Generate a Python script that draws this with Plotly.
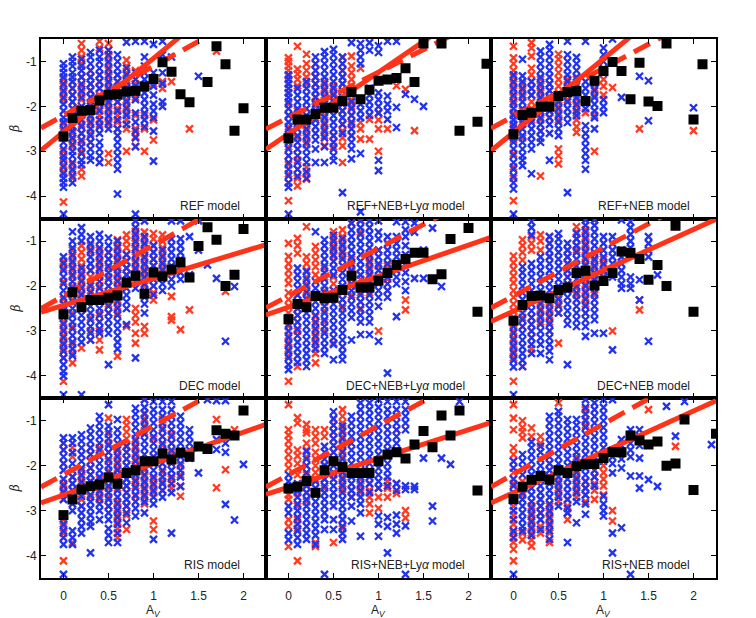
import plotly.graph_objects as go
from plotly.subplots import make_subplots

RED = "#ff3a20"
BLUE = "#2233ee"
LINE_RED = "#ff3318"

# panel labels, left-to-right, top-to-bottom
panel_labels = ["REF model", "REF+NEB+Ly<i>α</i> model", "REF+NEB model",
                "DEC model", "DEC+NEB+Ly<i>α</i> model", "DEC+NEB model",
                "RIS model", "RIS+NEB+Ly<i>α</i> model", "RIS+NEB model"]

# fitted relations (intercept, slope)
solid_icpt = [-2.57, -2.61, -2.58, -2.43, -2.47, -2.56, -2.655, -2.48, -2.60]
solid_slope = [1.64, 1.37, 1.64, 0.60, 0.69, 0.91, 0.70, 0.64, 0.91]
dash_icpt = [-2.205, -2.25, -2.22, -2.22, -2.22, -2.22, -2.20, -2.20, -2.19]
dash_slope = [1.10, 1.01, 1.07, 1.13, 1.06, 1.07, 1.09, 1.09, 1.12]
line_x = [-0.25, 2.25]

# binned medians (black squares)
med_x = [
    [0, .1, .2, .3, .4, .5, .6, .7, .8, .9, 1, 1.1, 1.2, 1.3, 1.4, 1.6, 1.7, 1.8, 1.9, 2.0],
    [0, .1, .2, .3, .4, .5, .6, .7, .8, .9, 1, 1.1, 1.2, 1.3, 1.4, 1.5, 1.7, 1.9, 2.1, 2.2],
    [0, .1, .2, .3, .4, .5, .6, .7, .8, .9, 1, 1.1, 1.2, 1.3, 1.4, 1.5, 1.6, 1.7, 2.0, 2.1],
    [0, .1, .2, .3, .4, .5, .6, .7, .8, .9, 1, 1.1, 1.2, 1.3, 1.4, 1.5, 1.6, 1.7, 1.8, 1.9, 2.0],
    [0, .1, .2, .3, .4, .5, .6, .7, .8, .9, 1, 1.1, 1.2, 1.3, 1.4, 1.5, 1.6, 1.7, 1.8, 2.0, 2.1],
    [0, .1, .2, .3, .4, .5, .6, .7, .8, .9, 1, 1.1, 1.2, 1.3, 1.4, 1.5, 1.6, 1.7, 1.8, 2.0],
    [0, .1, .2, .3, .4, .5, .6, .7, .8, .9, 1, 1.1, 1.2, 1.3, 1.4, 1.5, 1.6, 1.7, 1.8, 1.9, 2.0],
    [0, .1, .2, .3, .4, .5, .6, .7, .8, .9, 1, 1.1, 1.2, 1.3, 1.4, 1.5, 1.6, 1.7, 1.8, 1.9, 2.1],
    [0, .1, .2, .3, .4, .5, .6, .7, .8, .9, 1, 1.1, 1.2, 1.3, 1.4, 1.5, 1.6, 1.7, 1.8, 1.9, 2.0, 2.25],
]
med_y = [
    [-2.67, -2.26, -2.10, -2.08, -1.87, -1.74, -1.73, -1.67, -1.65, -1.56, -1.39, -1.02, -1.23, -1.73, -1.91, -1.46, -0.66, -1.06, -2.54, -2.04],
    [-2.71, -2.29, -2.29, -2.17, -2.03, -2.03, -1.88, -1.68, -1.84, -1.63, -1.43, -1.40, -1.37, -1.15, -1.46, -0.60, -0.60, -2.54, -2.34, -1.05],
    [-2.62, -2.19, -2.14, -2.01, -2.01, -1.77, -1.68, -1.66, -1.88, -1.43, -1.21, -1.01, -1.21, -1.84, -1.03, -1.89, -1.99, -0.60, -2.29, -1.06],
    [-2.63, -2.14, -2.47, -2.31, -2.31, -2.26, -2.21, -1.92, -1.77, -2.17, -1.70, -1.79, -1.63, -1.47, -1.81, -1.11, -0.69, -0.97, -2.00, -1.75, -0.73],
    [-2.74, -2.40, -2.47, -2.22, -2.27, -2.26, -2.09, -1.77, -2.03, -2.03, -1.88, -1.71, -1.53, -1.40, -1.26, -1.26, -1.85, -1.74, -0.95, -0.71, -2.57],
    [-2.77, -2.42, -2.22, -2.21, -2.27, -2.09, -2.03, -1.71, -1.66, -1.99, -1.89, -1.71, -1.23, -1.26, -1.40, -1.86, -1.53, -2.00, -0.66, -2.57],
    [-3.10, -2.75, -2.53, -2.46, -2.42, -2.26, -2.40, -2.16, -2.10, -1.90, -1.90, -1.73, -1.86, -1.71, -1.80, -1.57, -1.63, -1.21, -1.29, -1.33, -0.77],
    [-2.51, -2.47, -2.34, -2.60, -2.10, -1.90, -2.03, -2.16, -2.16, -2.16, -1.90, -1.75, -1.70, -1.84, -1.53, -1.23, -1.59, -0.88, -1.33, -0.77, -2.55],
    [-2.74, -2.47, -2.31, -2.23, -2.31, -2.10, -2.16, -2.01, -1.97, -1.96, -1.83, -1.70, -1.70, -1.33, -1.44, -1.53, -1.46, -2.00, -1.95, -0.97, -2.54, -1.29],
]

# individual galaxies: A_V column -> beta values
blue_ref = {
    0.0: "-1.05 -1.15 -1.25 -1.35 -1.5 -1.65 -1.8 -1.95 -2.1 -2.25 -2.35 -2.5 -2.65 -2.8 -2.95 -3.1 -3.2 -3.35 -3.5 -3.6 -3.7 -3.8 -4.4",
    0.1: "-0.9 -1.0 -1.1 -1.25 -1.35 -1.45 -1.6 -1.75 -1.9 -2.05 -2.2 -2.3 -2.45 -2.55 -2.7 -2.85 -3.0 -3.1 -3.25 -3.4 -3.55 -3.7",
    0.2: "-0.95 -1.1 -1.2 -1.35 -1.5 -1.65 -1.8 -2.0 -2.15 -2.3 -2.45 -2.6 -2.75 -2.9 -3.05 -3.2 -3.3",
    0.3: "-0.8 -0.9 -1.05 -1.2 -1.35 -1.5 -1.65 -1.8 -2.0 -2.2 -2.35 -2.5 -2.65 -2.8 -2.95 -3.1 -3.2",
    0.4: "-0.75 -0.9 -1.0 -1.15 -1.3 -1.45 -1.6 -1.8 -1.95 -2.1 -2.3 -2.45 -2.6 -2.8 -2.95 -3.1 -3.25",
    0.5: "-0.75 -0.85 -1.0 -1.15 -1.3 -1.45 -1.6 -1.75 -1.9 -2.05 -2.2 -2.35 -2.5",
    0.6: "-0.85 -1.0 -1.15 -1.3 -1.45 -1.6 -1.75 -1.9 -2.1 -2.3 -2.5 -2.65 -2.8 -2.95 -3.1 -3.25 -3.4 -3.95",
    0.7: "-0.57 -1.15 -1.3 -1.45 -1.6 -1.75 -1.9 -2.05 -2.2 -2.4",
    0.8: "-0.55 -1.25 -1.4 -1.55 -1.7 -1.85 -2.15 -2.35 -2.55 -2.7 -2.9 -4.4",
    0.9: "-0.55 -0.9 -1.1 -1.25 -1.4 -1.55 -1.7 -1.85 -2.0 -2.15 -2.3 -2.45",
    1.0: "-0.62 -1.25 -1.4 -1.55 -1.75 -1.95 -2.1 -2.25 -2.55 -3.22",
    1.1: "-0.55 -0.85 -1.25 -1.5 -1.9 -2.0",
    1.2: "-0.9",
    1.5: "-1.33",
}
red_ref = {
    0.0: "-1.4 -1.55 -1.7 -1.85 -2.4 -2.55 -2.7 -3.0 -3.15 -3.3 -3.45 -3.6 -4.13",
    0.1: "-1.45 -1.6 -1.75 -1.9 -2.05 -2.45 -2.6 -2.75 -2.9 -3.3 -3.45 -3.6",
    0.2: "-0.6 -0.75 -0.9 -1.05 -1.2 -1.35 -1.55 -1.7 -1.85 -2.2 -2.4 -2.6 -2.8 -3.0 -3.2 -3.4 -3.55",
    0.3: "-1.2 -1.35 -1.5 -1.65 -1.8 -1.95 -2.1 -2.25 -2.4 -2.6 -2.8",
    0.4: "-0.55 -0.7 -1.3 -1.45 -1.6 -1.75 -1.9 -2.05 -2.2 -2.4 -3.25",
    0.5: "-0.6 -0.75 -0.9 -1.05 -1.2 -1.35 -1.5 -1.65 -1.8 -1.95 -2.1 -2.25 -2.4 -3.05 -3.25",
    0.6: "-1.3 -1.45 -1.6 -1.75 -1.9 -2.05 -2.2 -2.35 -2.5",
    0.7: "-0.97 -1.1 -1.25 -1.4 -1.55 -1.7 -1.85 -2.0 -2.15 -2.3 -2.5 -3.0",
    0.8: "-1.2 -1.5 -1.8 -2.2 -2.5 -2.67 -2.89",
    0.9: "-2.2 -2.5 -3.0",
    1.0: "-1.5 -2.3 -2.75",
    1.1: "-1.45 -1.6",
    1.2: "-1.45",
    1.4: "-2.5",
    1.7: "-0.77",
}

blue_ref_neb_lya = {
    0.0: "-1.3 -1.4 -1.5 -1.6 -1.7 -1.8 -1.9 -2.05 -2.2 -2.35 -2.5 -2.65 -2.8 -2.95 -3.1 -3.25 -3.4 -3.55 -3.7 -3.8 -4.4",
    0.1: "-1.6 -1.75 -1.9 -2.05 -2.2 -2.35 -2.5 -2.65 -2.8 -2.95 -3.1 -3.25 -3.4 -3.55",
    0.2: "-1.45 -1.6 -1.75 -1.9 -2.05 -2.2 -2.35 -2.5 -2.65 -2.8 -2.95 -3.1 -3.25 -3.45 -3.6",
    0.3: "-0.9 -1.05 -1.2 -1.35 -1.5 -1.65 -1.8 -1.95 -2.1 -2.3 -2.45 -2.6 -2.75 -2.95 -3.25",
    0.4: "-0.78 -0.9 -1.05 -1.2 -1.35 -1.5 -1.65 -1.8 -1.95 -2.1 -2.25 -2.4 -2.55 -2.7 -2.9 -3.25",
    0.5: "-0.73 -0.85 -1.0 -1.15 -1.3 -1.45 -1.6 -1.75 -1.9 -2.05 -2.2 -2.35 -2.5 -2.65 -2.8 -2.95 -3.1 -3.21",
    0.6: "-0.9 -1.05 -1.2 -1.35 -1.5 -1.65 -1.8 -1.95 -2.1 -2.25 -2.4 -2.6 -3.92",
    0.7: "-0.58 -1.9 -2.05 -2.2 -2.35 -2.5 -2.65 -2.8 -2.95 -3.17",
    0.8: "-0.6 -0.75 -0.9 -1.05 -1.95 -2.1 -2.25 -3.05 -4.35",
    0.9: "-0.58 -0.75 -1.6 -1.75 -1.9 -2.05 -2.2",
    1.0: "-0.65 -0.8 -1.7 -1.85 -2.0 -2.15 -3.2 -3.43",
    1.1: "-0.55 -1.77 -1.95 -2.1 -2.29",
    1.2: "-0.55 -2.02 -2.47",
    1.3: "-1.73",
    1.4: "-1.84",
    1.5: "-2.0",
}
red_ref_neb_lya = {
    0.0: "-0.92 -1.0 -1.1 -1.2 -1.32 -1.5 -1.7 -1.95 -2.2 -2.45 -2.7 -2.9 -3.1 -3.3 -3.5 -3.7 -4.1",
    0.1: "-0.66 -1.17 -1.28 -1.4 -1.54 -2.1 -2.4 -2.7 -2.95 -3.2 -3.4 -3.6 -3.77",
    0.2: "-0.84 -1.05 -1.2 -1.35 -1.5 -2.4 -2.55 -2.7 -2.85 -3.35 -3.5 -3.62",
    0.3: "-1.05 -1.2 -1.35 -1.5 -1.65 -1.8 -1.9 -2.0 -2.15 -2.25",
    0.4: "-1.45 -1.6 -1.75 -1.9 -2.05 -2.2 -2.35 -2.5 -2.65 -2.88",
    0.5: "-1.55 -1.7 -1.85 -2.0 -2.65 -2.8 -2.9",
    0.6: "-0.91 -1.05 -1.2 -1.35 -1.5 -1.65 -1.8 -1.95 -2.1 -2.25 -2.4 -2.55 -2.7 -2.88 -3.25",
    0.7: "-0.88 -1.1 -1.25 -1.4 -1.55 -1.7 -1.85 -2.0 -2.2 -2.4 -2.65",
    0.8: "-1.15 -2.36 -2.5 -2.73",
    0.9: "-2.29 -2.73",
    1.0: "-2.14 -2.3 -2.5 -3.0",
    1.1: "-2.5",
    1.2: "-1.54",
    1.3: "-1.62",
    1.4: "-2.54",
}

blue_ref_neb = {
    0.0: "-1.3 -1.45 -1.6 -1.75 -1.9 -2.05 -2.2 -2.3 -2.4 -2.5 -2.6 -2.7 -2.8 -2.95 -3.1 -3.25 -3.4 -3.55 -3.7 -3.84 -4.4",
    0.1: "-0.95 -1.32 -1.45 -1.6 -1.75 -1.9 -2.05 -2.2 -2.35 -2.5 -2.65 -2.8 -2.95 -3.1 -3.2 -3.32",
    0.2: "-1.45 -1.6 -1.75 -2.36 -2.5 -2.65 -2.8 -2.95 -3.5",
    0.3: "-0.77 -0.9 -1.05 -1.2 -1.35 -1.5 -1.65 -1.8 -1.95 -2.1 -2.25 -2.4 -2.55 -2.7 -2.8",
    0.4: "-0.62 -0.75 -0.9 -1.05 -1.2 -1.35 -1.5 -1.65 -1.8 -1.95 -2.1 -2.25 -2.4 -2.6 -3.2",
    0.5: "-1.75 -1.9 -2.05 -2.2 -2.35 -2.5 -2.65",
    0.6: "-0.55 -0.85 -1.0 -1.15 -1.3 -1.45 -1.6 -1.75 -1.9 -2.05 -2.2 -2.36 -3.92",
    0.7: "-0.91 -1.05 -1.2 -1.35 -1.5 -1.65 -1.8 -1.95 -2.1 -2.21",
    0.8: "-0.55 -1.45 -1.6 -1.75 -1.9 -2.05 -2.43 -2.6 -2.75 -2.9 -3.05 -3.2 -3.4",
    0.9: "-1.5 -1.65 -1.8 -1.95 -2.1 -2.25 -2.5",
    1.0: "-0.7 -0.85 -1.0 -1.15 -1.25 -1.85 -2.0 -2.14",
    1.1: "-0.5",
    1.2: "-1.8",
    1.4: "-1.33",
    1.5: "-1.43 -2.32",
    2.0: "-2.03",
}
red_ref_neb = {
    0.0: "-0.66 -0.92 -1.05 -1.2 -1.35 -1.5 -1.65 -1.8 -1.95 -2.15 -2.45 -2.75 -3.05 -3.35 -3.6 -4.1",
    0.1: "-1.5 -1.65 -1.8 -2.1 -2.4 -2.7",
    0.2: "-0.58 -0.7 -0.88 -1.15 -1.3 -1.45 -1.6 -1.75 -1.9 -2.05 -2.2 -2.3",
    0.3: "-1.4 -1.55 -1.7 -1.85 -2.0 -2.15 -2.3 -2.55 -3.55",
    0.4: "-1.5 -1.65 -1.8 -1.95 -2.1 -2.25",
    0.5: "-0.84 -0.95 -1.1 -1.25 -1.4 -1.55 -1.7 -1.85 -2.0 -2.15 -2.3 -2.95 -3.1 -3.28",
    0.6: "-1.4 -1.55 -1.7 -1.85",
    0.7: "-1.4 -1.55 -1.7 -1.85 -2.0 -2.15 -2.3 -2.45 -2.58",
    0.8: "-2.14",
    0.9: "-1.45 -1.6 -1.75 -2.2 -3.0",
    1.0: "-1.4 -1.55 -1.75",
    1.1: "-1.58",
    1.4: "-2.5",
    2.0: "-2.54",
}

blue_dec = {
    0.0: "-1.35 -1.5 -1.65 -1.8 -1.95 -2.1 -2.25 -2.4 -2.55 -2.7 -2.85 -3.0 -3.15 -3.3 -3.45 -3.6 -3.75 -3.9 -4.0 -4.42",
    0.1: "-0.79 -1.0 -1.15 -1.3 -1.45 -1.6 -1.75 -1.9 -2.05 -2.2 -2.35 -2.5 -2.65 -2.8 -2.95 -3.1 -3.25 -3.4 -3.55",
    0.2: "-0.7 -0.85 -1.0 -1.6 -1.75 -1.9 -2.05 -2.2 -2.35 -2.5 -2.65 -2.8 -2.95 -3.1 -3.25 -4.42",
    0.3: "-0.9 -1.05 -1.2 -1.35 -1.5 -1.65 -2.0 -2.15 -2.3 -2.45 -2.6 -2.75 -2.9 -3.05 -3.2",
    0.4: "-0.85 -1.0 -1.15 -1.3 -1.45 -1.6 -1.75 -1.9 -2.05 -2.2 -2.35 -2.5 -2.65 -2.8 -2.95 -3.05",
    0.5: "-0.93 -1.1 -1.25 -1.4 -1.55 -1.7 -1.85 -2.0 -2.15 -2.3 -2.45 -2.6 -2.75 -2.9 -3.05 -3.75",
    0.6: "-1.0 -1.15 -1.3 -1.45 -1.6 -1.75 -1.9 -2.05 -2.2 -2.35 -2.5 -2.65 -2.8 -2.95 -3.1 -3.25 -3.4",
    0.7: "-1.3 -1.45 -1.6 -1.75 -1.9 -2.05 -2.2 -2.35 -2.5 -2.86",
    0.8: "-0.55 -0.7 -0.85 -1.0 -1.15 -1.3 -1.45 -1.6 -1.75 -1.9 -2.05 -3.6",
    0.9: "-0.55 -0.9 -1.05 -1.2 -1.35 -1.5 -1.65 -1.8 -1.95 -2.1 -2.25 -2.4 -2.6",
    1.0: "-1.1 -1.25 -1.4 -1.55 -1.7 -1.85 -2.0 -2.2",
    1.1: "-1.2 -1.35 -1.5 -1.65 -1.8 -1.95 -2.1",
    1.2: "-0.55 -0.95 -1.1 -1.25 -1.4 -1.55 -1.7 -1.85 -2.0",
    1.3: "-0.55 -0.95 -1.1 -1.25 -1.4 -1.55 -1.7 -1.85",
    1.4: "-0.9 -1.75",
    1.5: "-0.55 -1.2",
    1.6: "-1.53",
    1.7: "-1.83",
    1.8: "-3.23",
    1.9: "-2.01",
}
red_dec = {
    0.0: "-1.45 -1.6 -1.9 -2.3 -2.5 -2.65 -2.8 -2.95 -3.1 -3.25 -3.4 -3.6 -4.12",
    0.1: "-1.2 -1.35 -1.5 -1.65 -1.8 -2.0 -2.3 -2.6 -2.9 -3.1 -3.3 -3.5 -3.71",
    0.2: "-1.1 -1.25 -1.4 -1.55 -1.7 -1.85 -2.0 -2.15 -2.31 -3.38",
    0.3: "-1.1 -1.25 -1.5 -1.65 -1.8 -1.95 -2.1 -2.7 -3.0 -3.2",
    0.4: "-1.2 -1.35 -1.5 -1.65 -1.8 -2.0 -2.6 -2.8 -3.0 -3.2 -3.42",
    0.5: "-1.25 -1.4 -1.6 -1.8 -2.0 -2.2 -2.4 -2.6",
    0.6: "-0.97 -1.1 -1.25 -1.4 -1.55 -1.7 -1.85 -2.0 -2.15 -2.3 -2.45 -2.6 -3.56",
    0.7: "-0.86 -1.0 -1.15 -1.3 -1.45 -1.6 -1.75 -1.94 -2.9",
    0.8: "-0.78 -0.92 -1.05 -1.2 -1.35 -1.5 -1.65 -1.82 -2.5 -2.65 -2.8 -3.05 -3.27",
    0.9: "-0.8 -0.95 -1.1 -1.25 -1.4 -1.55 -1.7 -1.85 -2.0 -2.2 -2.9 -3.05",
    1.0: "-0.83 -0.95 -1.1 -1.25 -1.4 -1.55 -1.7 -1.85 -2.0 -2.15 -2.31",
    1.1: "-0.86 -1.0 -1.15 -1.3 -1.45 -1.6 -1.8",
    1.2: "-2.23 -2.68 -2.76",
    1.3: "-2.97",
    1.4: "-2.53",
    1.5: "-0.53",
    1.8: "-2.12",
}

blue_dec_neb_lya = {
    0.0: "-2.7 -2.85 -3.0 -3.15 -3.3 -3.45 -3.6 -3.75 -3.86",
    0.1: "-1.6 -1.75 -1.9 -2.05 -2.2 -2.35 -2.5 -2.65 -2.8 -2.95 -3.1 -3.25 -3.4 -3.55 -3.7",
    0.2: "-1.68 -1.85 -2.0 -2.15 -2.3 -2.45 -2.6 -2.75 -2.9 -3.05 -3.2 -3.35 -3.5 -3.65 -3.79",
    0.3: "-0.79 -1.9 -2.05 -2.2 -2.35 -2.5 -2.65 -2.8 -2.95 -3.1 -3.25 -3.4",
    0.4: "-0.97 -1.1 -1.25 -1.4 -1.55 -1.7 -1.85 -2.0 -2.15 -2.3 -2.45 -2.6 -2.75 -2.9 -3.05 -3.2 -3.35 -3.5",
    0.5: "-0.87 -1.0 -1.15 -1.3 -1.45 -1.6 -1.75 -2.1 -2.25 -2.4 -2.55 -2.7 -2.85 -3.0 -3.15 -3.3 -3.64",
    0.6: "-0.95 -1.1 -1.25 -1.4 -1.55 -1.7 -1.85 -2.0 -2.3 -2.45 -2.6 -2.75 -2.9 -3.05 -3.2 -3.35 -3.5 -3.64",
    0.7: "-0.6 -0.75 -0.9 -1.05 -1.2 -1.35 -1.5 -1.65 -1.8 -1.95 -2.1 -2.25 -2.4 -2.55 -2.7 -3.2",
    0.8: "-0.55 -0.7 -0.85 -1.0 -1.15 -1.3 -1.45 -1.6 -1.75 -2.2 -2.35 -2.5 -2.65 -2.8 -3.08",
    0.9: "-0.55 -0.7 -0.85 -1.0 -1.15 -1.3 -1.45 -1.6 -1.75 -1.9 -2.05 -2.2 -2.35 -2.5 -2.65 -2.8 -3.08",
    1.0: "-0.55 -0.8 -0.95 -1.2 -1.35 -1.5 -1.65 -1.8 -1.95 -2.1 -2.25 -2.45 -3.23",
    1.1: "-0.9 -1.05 -1.2 -1.35 -1.5 -1.65 -1.8 -1.95 -2.1 -2.25 -3.94",
    1.2: "-0.57 -0.9 -1.05 -1.2 -1.35 -1.5 -1.65 -1.8 -1.95 -2.68",
    1.3: "-0.57 -0.75 -0.9 -1.1 -1.3 -1.5 -1.7 -1.9 -2.1",
    1.4: "-0.6 -0.8 -1.83",
    1.5: "-1.2 -1.83",
    1.6: "-0.71",
    1.7: "-2.01",
}
red_dec_neb_lya = {
    0.0: "-1.05 -1.34 -1.5 -1.65 -1.8 -1.94 -2.15 -2.3 -2.45 -2.6 -2.75 -2.9 -3.1 -3.25 -3.4 -3.55 -4.12",
    0.1: "-0.94 -1.1 -1.27 -2.2 -2.35 -2.5 -2.65 -2.8 -3.0 -3.79",
    0.2: "-0.68 -1.35 -1.5 -1.65 -1.8 -1.95 -2.1 -2.25",
    0.3: "-1.12 -1.27 -1.42 -1.57 -1.75 -2.68 -2.85 -3.0 -3.15 -3.3 -3.5 -3.71",
    0.4: "-1.6 -1.8 -2.1 -2.35 -2.55 -2.8 -3.0",
    0.5: "-0.79 -0.95 -1.1 -1.2 -1.34 -1.8 -1.95 -2.1 -3.27",
    0.6: "-0.75 -0.9 -1.05 -1.2 -1.34 -2.0 -2.15 -2.3 -2.5",
    0.7: "-0.6 -1.4 -1.55 -1.7 -1.85 -2.0 -2.2",
    0.8: "-0.53 -0.8 -1.85 -2.0 -2.15 -2.35 -2.53",
    0.9: "-1.35 -1.5 -1.65 -1.8 -1.95 -2.15",
    1.0: "-1.2 -1.55 -3.0",
    1.1: "-1.55 -1.7 -1.85 -2.1",
    1.3: "-2.31 -2.53",
}

blue_dec_neb = {
    0.0: "-2.9 -3.05 -3.2 -3.35 -3.5 -3.65 -3.8 -4.42",
    0.1: "-1.57 -1.7 -1.85 -2.0 -2.15 -2.3 -2.45 -2.6 -2.75 -2.9 -3.05 -3.2 -3.35 -3.5 -3.65 -3.79",
    0.2: "-0.57 -0.7 -0.86 -1.5 -1.65 -1.8 -1.95 -2.1 -2.25 -2.4 -2.55 -2.7 -2.85 -3.0 -3.15 -3.3 -3.5",
    0.3: "-1.35 -1.5 -1.65 -1.8 -1.95 -2.1 -2.25 -2.4 -2.55 -2.7 -2.85 -3.0 -3.15 -3.3 -3.5",
    0.4: "-0.9 -1.05 -1.2 -1.35 -1.5 -1.65 -1.8 -1.95 -2.1 -2.25 -2.4 -2.55 -2.7 -2.85 -3.0 -3.15 -3.3 -3.45 -3.64",
    0.5: "-0.83 -0.95 -1.1 -1.25 -1.4 -1.55 -1.7 -1.85 -2.0 -2.15 -2.3 -2.45 -2.6",
    0.6: "-1.05 -1.2 -1.35 -1.5 -1.65 -1.8 -1.95 -2.1 -2.25 -2.4 -2.55 -2.7 -2.85 -3.75",
    0.7: "-0.83 -0.95 -1.1 -1.25 -1.4 -1.55 -1.7 -1.85 -2.0 -2.15 -2.3 -2.45 -2.6 -2.75 -2.9",
    0.8: "-0.53 -0.65 -0.8 -0.95 -1.1 -1.25 -1.4 -1.55 -1.7 -1.85 -2.0 -2.15 -2.3 -2.45 -2.6 -2.75 -2.9 -3.12",
    0.9: "-0.53 -0.65 -0.8 -0.95 -1.1 -1.25 -1.4 -1.55 -1.7 -1.85 -2.0 -2.15 -2.3 -2.45 -2.6 -2.75 -3.05",
    1.0: "-0.9 -1.05 -1.2 -1.35 -1.5 -1.65 -1.8 -3.05",
    1.1: "-0.9 -1.05 -1.2 -1.35 -1.5 -1.65 -1.8 -3.42",
    1.2: "-0.53 -1.2 -1.35 -1.5 -1.65 -1.8 -1.95 -2.05",
    1.3: "-0.57 -0.7 -0.85 -1.0 -1.15 -1.8 -1.95 -2.05",
    1.4: "-1.86 -2.31",
    1.5: "-0.9 -1.05 -1.2 -1.35 -3.23",
    1.6: "-1.75",
}
red_dec_neb = {
    0.0: "-1.33 -1.48 -1.63 -1.78 -1.93 -2.1 -2.25 -2.4 -2.55 -2.7 -2.85 -3.0 -3.15 -3.3 -3.45 -3.6 -4.12",
    0.1: "-0.97 -1.1 -1.25 -1.42 -2.3 -2.5 -2.7 -2.9 -3.79",
    0.2: "-0.9 -1.05 -1.2 -2.7 -2.85 -3.0 -3.15 -3.4",
    0.3: "-0.86 -1.0 -1.2 -2.2 -2.35 -2.5 -2.65 -2.8",
    0.4: "-0.9 -1.05 -1.34 -2.35 -2.5 -2.65 -2.8 -3.0",
    0.5: "-2.1 -2.25 -2.4 -2.6 -3.27",
    0.6: "-1.2 -1.35 -1.5 -1.65 -1.8 -1.95 -2.1",
    0.7: "-0.68 -0.8 -0.95 -1.1 -1.2 -2.05 -2.2 -2.3",
    0.8: "-0.75 -0.9 -1.05 -1.2 -1.35 -1.5 -1.65 -1.8 -1.95 -2.1 -2.25 -2.4 -2.6",
    0.9: "-1.3 -1.45 -1.6 -1.75 -1.9 -2.05 -2.2",
    1.0: "-1.4 -1.55 -1.7",
    1.1: "-3.0",
    1.4: "-2.31 -2.53",
}

blue_ris = {
    0.0: "-1.38 -1.5 -1.65 -1.8 -1.95 -2.1 -2.3 -2.45 -2.6 -2.75 -3.3 -3.45 -3.6 -3.75 -4.42",
    0.1: "-1.38 -1.5 -1.71 -1.95 -2.1 -2.25 -2.4 -2.55 -2.7 -2.85 -3.0 -3.45 -3.6 -3.75",
    0.2: "-1.31 -1.45 -1.6 -1.75 -1.9 -2.05 -2.2 -2.35 -2.5 -2.68 -2.9 -3.05 -3.2 -3.35 -3.5",
    0.3: "-1.16 -1.3 -1.45 -1.6 -1.75 -1.9 -2.05 -2.2 -2.35 -2.5 -2.65 -2.8 -2.95 -3.1 -3.25 -3.35 -3.94",
    0.4: "-0.9 -1.05 -1.2 -1.35 -1.5 -1.65 -1.8 -1.95 -2.1 -2.25 -2.4 -2.55 -2.7 -2.85 -3.0 -3.2",
    0.5: "-0.64 -1.12 -1.25 -1.4 -1.55 -1.7 -1.85 -2.0 -2.15 -2.3 -2.45 -2.6 -2.75 -2.9 -3.05 -3.2 -3.4 -3.55 -3.71",
    0.6: "-0.97 -1.2 -1.35 -1.5 -1.65 -1.8 -1.95 -2.1 -2.25 -2.4 -2.55 -2.7 -2.85 -3.0 -3.15 -3.3 -3.5 -3.71",
    0.7: "-1.57 -1.7 -1.85 -2.0 -2.15 -2.3 -2.45 -2.6 -2.75 -2.9 -3.05 -3.27",
    0.8: "-0.72 -0.85 -1.0 -1.15 -1.3 -1.45 -1.6 -1.75 -1.9 -2.05 -2.2 -2.35 -2.5 -2.65 -2.8 -2.95 -3.12",
    0.9: "-0.53 -0.7 -0.85 -1.0 -1.15 -1.3 -1.45 -1.6 -1.75 -1.9 -2.05 -2.2 -2.35 -2.5 -2.65 -2.8 -3.05",
    1.0: "-0.57 -0.75 -0.9 -1.05 -1.2 -1.35 -1.5 -1.65 -1.8 -1.95 -2.1 -2.25 -2.4 -2.55 -2.7 -2.85 -3.64",
    1.1: "-0.57 -0.75 -0.9 -1.05 -1.2 -1.35 -1.5 -1.65 -1.8 -1.95 -2.1 -2.25 -2.4 -2.55 -2.7",
    1.2: "-0.57 -0.75 -0.9 -1.05 -1.2 -1.35 -1.5 -1.65 -1.8 -1.95 -2.1 -2.25 -2.4 -2.6 -3.5",
    1.3: "-0.9 -1.05 -1.2 -1.35 -1.5 -1.65 -1.8 -1.95 -2.1 -2.25 -2.46",
    1.4: "-1.2 -1.35 -1.5 -1.65 -1.83",
    1.5: "-2.16",
    1.6: "-0.53",
    1.7: "-0.55 -1.42 -1.64",
    1.8: "-0.55 -1.5 -1.7 -2.86",
    1.9: "-3.21",
    2.0: "-1.97",
}
red_ris = {
    0.0: "-1.5 -1.65 -1.95 -2.1 -2.4 -2.55 -2.75 -3.2 -3.35 -3.5 -4.12",
    0.1: "-1.6 -1.8 -2.25 -2.4 -2.55 -2.7 -3.71",
    0.2: "-1.75 -2.1 -2.25 -2.4 -2.55 -2.75 -2.9",
    0.3: "-1.6 -1.75 -1.9 -2.05 -2.2 -2.35 -2.5 -2.7",
    0.4: "-1.6 -2.3 -2.45 -2.6 -2.75",
    0.5: "-0.94 -1.3 -1.5 -1.7 -1.9 -2.1 -2.3 -2.5 -2.7 -2.9",
    0.6: "-1.6 -1.75 -1.9 -2.05 -2.2 -2.35 -2.5 -2.8 -2.95 -3.1 -3.25 -3.4 -3.6",
    0.7: "-0.97 -1.1 -1.25 -1.4 -1.55 -1.7 -1.85 -2.0 -2.15 -2.3 -2.45 -2.6 -2.75 -2.9 -3.1 -3.42",
    0.8: "-1.4 -1.55 -1.7 -1.85 -2.0 -2.15 -2.3 -2.45 -2.68",
    0.9: "-0.53 -0.83 -0.95 -1.1 -1.25 -2.1 -2.25 -2.4 -2.55 -2.7 -2.85",
    1.0: "-1.4 -1.8 -2.3 -2.45 -2.6 -3.23 -3.42",
    1.1: "-0.97 -1.15 -1.35 -1.55 -1.75 -1.95 -2.15 -2.35 -2.55",
    1.2: "-1.3 -1.5 -1.7 -1.9 -2.1 -2.3 -2.5",
    1.3: "-2.0 -2.2 -2.46 -2.68",
    1.7: "-0.97 -2.49",
    1.8: "-2.09",
    1.9: "-1.2",
}

blue_ris_neb_lya = {
    0.0: "-2.2 -2.35 -2.9 -3.05 -3.5 -3.65",
    0.1: "-2.4 -2.55 -2.7 -2.85 -3.0 -3.15 -3.3 -3.45 -3.6 -3.75",
    0.2: "-1.68 -1.85 -2.0 -2.15 -2.3 -2.45 -2.6 -2.75 -2.9 -3.05 -3.2 -3.35 -3.5 -3.64",
    0.3: "-2.35 -2.5 -2.65 -2.8 -2.95 -3.1 -3.25 -3.4 -3.55 -3.75",
    0.4: "-1.57 -1.7 -1.85 -2.0 -2.15 -2.3 -2.45 -2.6 -2.75 -2.9 -3.05 -3.2 -3.42 -4.42",
    0.5: "-0.8 -0.95 -1.1 -1.25 -1.4 -1.55 -1.7 -1.85 -2.0 -2.15 -2.3 -2.45 -2.6 -2.75 -2.9 -3.2 -3.42",
    0.6: "-1.12 -1.25 -1.4 -1.55 -1.7 -1.85 -2.0 -2.15 -2.3 -2.45 -2.6 -2.75 -2.9 -3.05 -3.2 -3.35 -3.5 -3.64",
    0.7: "-0.9 -1.05 -1.2 -1.35 -1.5 -1.65 -1.8 -1.95 -2.1 -2.25 -2.4 -2.55 -2.7 -2.9 -3.23",
    0.8: "-0.6 -0.75 -0.9 -1.05 -1.2 -1.35 -1.5 -1.65 -1.8 -1.95 -2.1 -2.25 -2.4 -2.55 -2.7 -2.85 -3.05 -3.57",
    0.9: "-0.6 -0.75 -0.9 -1.05 -1.2 -1.35 -1.5 -1.65 -1.8 -1.95 -2.1 -2.25 -2.4 -2.6",
    1.0: "-0.53 -0.7 -0.85 -1.0 -1.15 -1.3 -1.45 -1.6 -1.75 -1.9 -2.05 -2.2 -2.35 -2.5 -3.12 -3.3 -3.57",
    1.1: "-0.57 -0.75 -0.9 -1.05 -1.2 -1.35 -1.5 -1.65 -1.8 -1.95 -2.1 -2.25 -2.45 -3.15 -3.35 -3.94",
    1.2: "-0.57 -0.75 -0.9 -1.05 -1.2 -1.35 -1.5 -1.65 -2.4 -2.55 -3.1 -3.3 -3.5",
    1.3: "-0.57 -0.75 -0.9 -1.05 -1.2 -2.45 -2.53 -3.34 -4.42",
    1.4: "-2.46 -2.53",
    1.5: "-1.83",
    1.6: "-2.9 -3.23",
    1.7: "-1.83",
    1.8: "-1.97",
    1.9: "-0.57",
}
red_ris_neb_lya = {
    0.0: "-0.64 -1.2 -1.32 -1.45 -1.6 -1.75 -1.9 -2.05 -2.5 -2.65 -2.75 -3.2 -3.35 -3.8",
    0.1: "-0.93 -1.05 -1.65 -1.78 -1.95 -2.2 -2.6 -2.9 -3.2 -3.4 -4.12",
    0.2: "-1.08 -1.2 -1.27 -1.5 -1.65 -1.8 -2.0 -2.2 -2.4 -2.6 -2.8",
    0.3: "-1.2 -1.35 -1.5 -1.7 -1.85 -2.0 -2.15 -2.3 -3.71 -3.8",
    0.4: "-1.2 -1.35 -1.98 -2.15 -2.3 -2.5",
    0.5: "-0.97 -1.1 -1.25 -1.4 -1.55 -1.7 -1.85 -2.2 -3.71",
    0.6: "-0.75 -0.9 -1.05 -1.2 -1.35 -1.5 -1.65 -1.8 -1.95 -2.1 -2.25 -2.4 -2.53 -3.2 -3.4",
    0.7: "-2.55 -2.7",
    0.8: "-2.15 -2.3 -2.45 -2.6",
    0.9: "-2.4 -2.55 -2.7 -2.85 -3.05",
    1.0: "-2.5 -2.7 -2.95",
    1.1: "-2.35 -2.5 -2.7",
    1.2: "-1.2 -2.4 -2.62",
    1.3: "-3.0 -3.16",
}

blue_ris_neb = {
    0.0: "-1.9 -2.05 -2.3 -2.45 -2.6 -2.8 -3.0 -3.2 -3.45 -3.6 -4.42",
    0.1: "-1.75 -1.9 -2.05 -2.2 -2.45 -2.6 -2.75 -2.9 -3.05 -3.2 -3.35 -3.45",
    0.2: "-1.47 -1.6 -1.75 -1.9 -2.05 -2.2 -2.35 -2.5 -2.65 -2.8 -2.95 -3.1 -3.25 -3.4 -3.55",
    0.3: "-1.57 -1.7 -1.85 -2.0 -2.15 -2.3 -2.45 -2.6 -2.75 -2.9 -3.05 -3.2 -3.42",
    0.4: "-0.9 -1.05 -1.2 -1.35 -1.5 -1.65 -1.8 -1.95 -2.1 -2.25 -2.4 -2.55 -2.7 -2.85 -3.0 -3.15 -3.3 -3.45 -3.64",
    0.5: "-0.79 -0.9 -1.05 -1.2 -1.35 -1.5 -1.65 -1.8 -1.95 -2.1 -2.25 -2.4 -2.55 -2.7 -2.9",
    0.6: "-0.97 -1.1 -1.25 -1.4 -1.55 -1.7 -1.85 -2.0 -2.15 -2.3 -2.45 -2.6 -2.75 -2.95 -3.05 -3.71",
    0.7: "-0.97 -1.1 -1.25 -1.4 -1.55 -1.7 -1.85 -2.0 -2.15 -2.3 -2.45 -2.6 -2.8 -3.27",
    0.8: "-0.53 -0.7 -0.85 -1.0 -1.15 -1.3 -1.45 -1.6 -1.75 -1.9 -2.05 -2.2 -2.35 -2.5 -2.65 -2.85 -3.08",
    0.9: "-0.6 -0.75 -0.9 -1.05 -1.2 -1.35 -1.5 -1.65 -1.8 -1.95 -2.1 -2.25 -2.45",
    1.0: "-0.53 -0.7 -0.85 -1.0 -1.15 -1.3 -1.45 -1.6 -1.75 -1.9 -2.68 -2.85 -3.0 -3.12",
    1.1: "-0.53 -1.65 -1.8 -1.95 -2.16 -3.5 -3.94",
    1.2: "-1.42 -1.55 -1.7 -1.85 -2.05 -3.38",
    1.3: "-1.2 -1.35 -1.5 -1.65 -1.8 -2.23 -4.42",
    1.4: "-1.2 -1.35 -1.55 -1.83 -2.23 -2.5",
    1.5: "-2.31",
    1.6: "-2.46",
    1.7: "-0.68",
    1.8: "-1.34",
    1.9: "-0.57",
    2.2: "-1.53",
}
red_ris_neb = {
    0.0: "-0.64 -0.94 -1.2 -1.6 -1.75 -1.9 -2.15 -2.4 -2.7 -2.9 -3.1 -3.3 -3.5 -3.7 -3.86 -4.12",
    0.1: "-1.0 -1.15 -1.25 -1.38 -2.35 -2.5 -2.65 -3.5 -3.65",
    0.2: "-1.16 -1.35 -2.9 -3.05 -3.2 -3.35 -3.5 -3.65 -3.79",
    0.3: "-1.35 -1.5 -2.75 -2.9 -3.05 -3.2 -3.35 -3.5",
    0.4: "-1.95 -2.1 -2.25 -2.9 -3.05 -3.2 -3.35 -3.5 -3.71",
    0.5: "-0.6 -2.35 -2.5 -2.65 -2.8",
    0.6: "-2.75 -2.9 -3.05 -3.2",
    0.7: "-1.8 -1.95 -2.1 -2.25 -2.4 -2.55 -2.7",
    0.8: "-0.75 -0.85 -0.97 -1.1 -2.35 -2.5 -2.65 -2.8",
    0.9: "-1.95 -2.1 -2.25 -2.4 -2.55 -2.75",
    1.0: "-1.85 -2.0 -2.15 -2.3 -2.45 -2.65",
    1.1: "-3.0 -3.23",
    1.5: "-0.75",
    1.8: "-1.57",
}

red_sets = [red_ref, red_ref_neb_lya, red_ref_neb, red_dec, red_dec_neb_lya,
            red_dec_neb, red_ris, red_ris_neb_lya, red_ris_neb]
blue_sets = [blue_ref, blue_ref_neb_lya, blue_ref_neb, blue_dec, blue_dec_neb_lya,
             blue_dec_neb, blue_ris, blue_ris_neb_lya, blue_ris_neb]

y_ticks = [-1, -2, -3, -4]
y_ticktext = ["-1", "-2", "-3", "-4"]
x_ticks = [0, 0.5, 1, 1.5, 2]
x_ticktext = ["0", "0.5", "1", "1.5", "2"]


def unpack(cols):
    xs, ys = [], []
    for x, vals in cols.items():
        for v in vals.split():
            xs.append(x)
            ys.append(float(v))
    return xs, ys


fig = make_subplots(rows=3, cols=3, horizontal_spacing=0, vertical_spacing=0)

for i in range(9):
    r, c = i // 3 + 1, i % 3 + 1
    for pts, col in [(red_sets[i], RED), (blue_sets[i], BLUE)]:
        xs, ys = unpack(pts)
        fig.add_trace(go.Scatter(x=xs, y=ys, mode="markers",
                                 marker=dict(symbol="x-thin", size=7,
                                             line=dict(width=2.3, color=col))),
                      row=r, col=c)
    fig.add_trace(go.Scatter(x=line_x, y=[dash_icpt[i] + dash_slope[i] * x for x in line_x],
                             mode="lines", line=dict(color=LINE_RED, width=5, dash="18px,9px")),
                  row=r, col=c)
    fig.add_trace(go.Scatter(x=line_x, y=[solid_icpt[i] + solid_slope[i] * x for x in line_x],
                             mode="lines", line=dict(color=LINE_RED, width=5)),
                  row=r, col=c)
    fig.add_trace(go.Scatter(x=med_x[i], y=med_y[i], mode="markers",
                             marker=dict(symbol="square", size=10, color="black")),
                  row=r, col=c)
    ax = "" if i == 0 else str(i + 1)
    fig.add_annotation(x=1.98, y=-4.22, xref="x" + ax, yref="y" + ax,
                       text=panel_labels[i], showarrow=False,
                       xanchor="right", yanchor="middle",
                       font=dict(size=12, color="#222"))

fig.update_xaxes(range=[-0.25, 2.25], tickvals=x_ticks, ticktext=x_ticktext,
                 ticks="inside", ticklen=5, tickwidth=1, tickcolor="black",
                 showline=True, linecolor="black", linewidth=2, mirror="ticks",
                 showgrid=False, zeroline=False, showticklabels=False)
fig.update_yaxes(range=[-4.5, -0.5], tickvals=y_ticks, ticktext=y_ticktext,
                 ticks="inside", ticklen=5, tickwidth=1, tickcolor="black",
                 showline=True, linecolor="black", linewidth=2, mirror="ticks",
                 showgrid=False, zeroline=False, showticklabels=False)
for c in (1, 2, 3):
    fig.update_xaxes(showticklabels=True, ticklabelstandoff=6, row=3, col=c)
for r in (1, 2, 3):
    fig.update_yaxes(showticklabels=True, row=r, col=1)

for xc in (1 / 6, 0.5, 5 / 6):
    fig.add_annotation(x=xc, y=0, xref="paper", yref="paper", yshift=-33,
                       xanchor="center", yanchor="middle",
                       text="A<sub><i>V</i></sub>", showarrow=False,
                       font=dict(size=12, color="#222"))
for yc in (5 / 6, 0.5, 1 / 6):
    fig.add_annotation(x=0, y=yc, xref="paper", yref="paper", xshift=-26,
                       xanchor="center", yanchor="middle",
                       text="<i>β</i>", showarrow=False, textangle=-90,
                       font=dict(size=12, color="#222", family="DejaVu Serif"))

# page body keeps its default 8px margin, so the figure is 8px smaller
fig.update_layout(width=748, height=610, showlegend=False,
                  margin=dict(l=33, r=40, t=31, b=40),
                  paper_bgcolor="white", plot_bgcolor="white",
                  font=dict(family="Liberation Sans, Arial, sans-serif", size=12, color="#222"))

fig.write_html("out.html")
